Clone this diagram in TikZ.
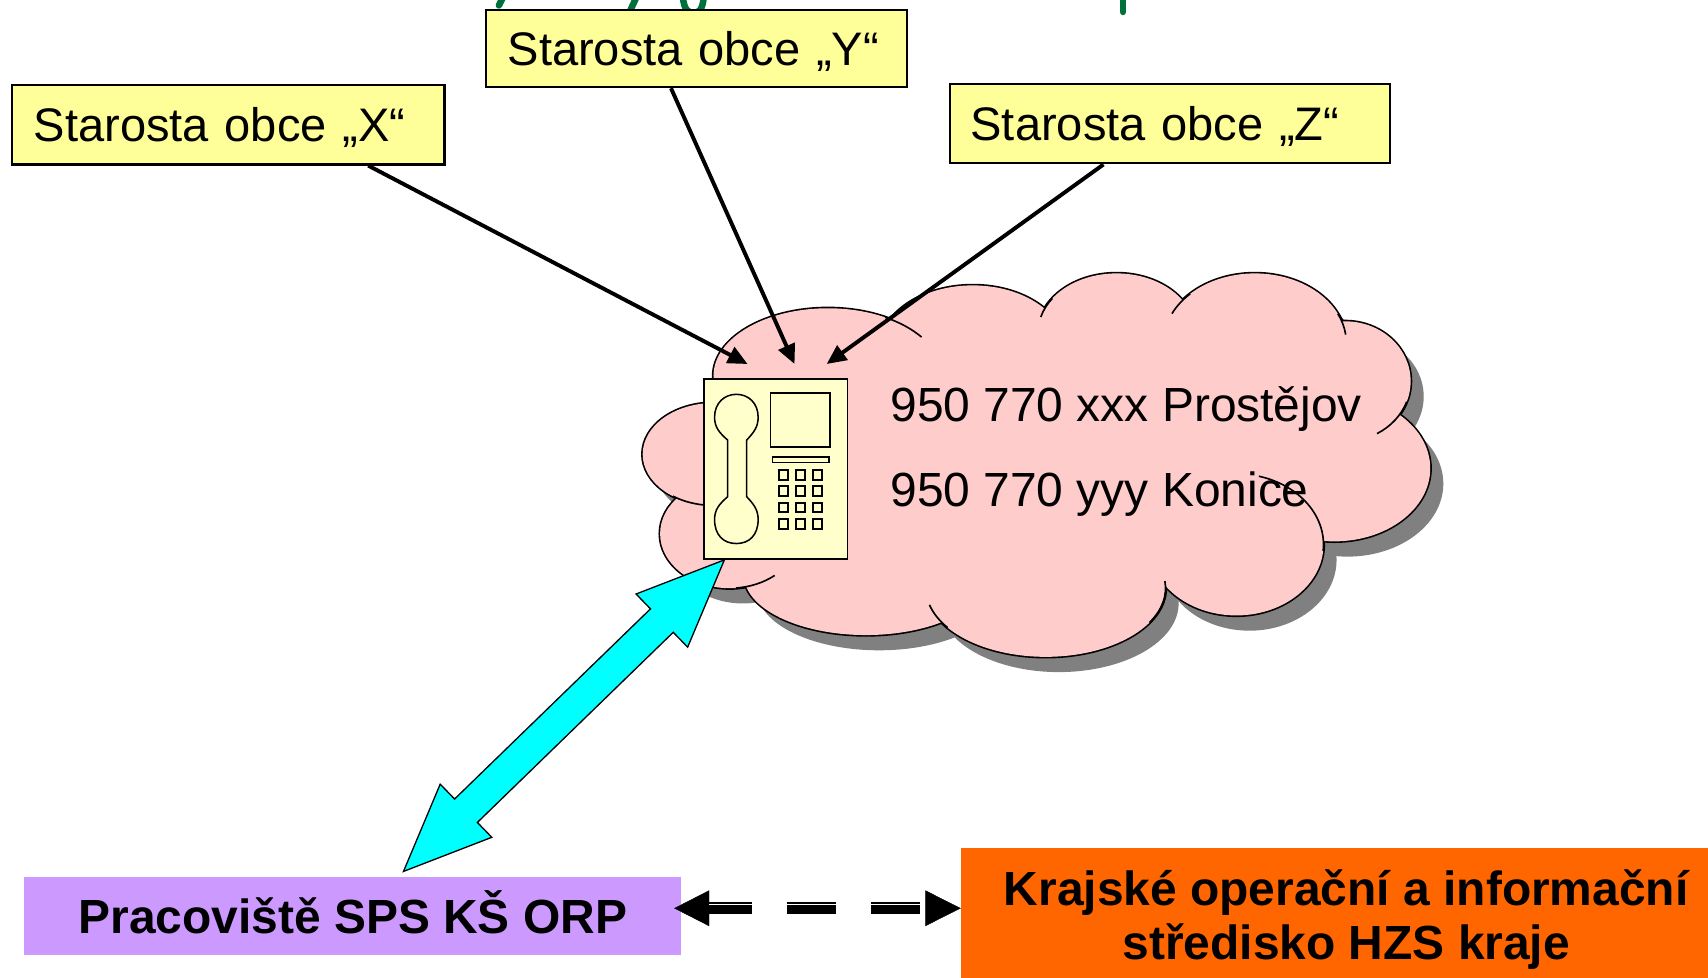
\documentclass[tikz,border=0pt]{standalone}
\usepackage{fontspec}
\setmainfont{Liberation Sans}
\usetikzlibrary{arrows.meta,calc}
\definecolor{boxyellow}{HTML}{FFFF99}
\definecolor{phoneyellow}{HTML}{FFFFCC}
\definecolor{cloudpink}{HTML}{FFCCCC}
\definecolor{shadowgray}{HTML}{808080}
\definecolor{spsviolet}{HTML}{CC99FF}
\definecolor{koisorange}{HTML}{FF6600}
\definecolor{linkcyan}{HTML}{00FFFF}
\definecolor{titlegreen}{HTML}{00703C}
\begin{document}
\begin{tikzpicture}[x=0.5pt,y=-0.5pt,
  font=\fontsize{22pt}{25pt}\selectfont,
  starbox/.style={draw=black, line width=1pt, fill=boxyellow, rectangle,
    anchor=north west, inner xsep=10pt, inner ysep=0pt,
    font=\fontsize{21.6pt}{25pt}\selectfont,
    text height=15.5pt, text depth=0pt, minimum height=36.5pt, align=left},
  callarrow/.style={line width=1.8pt, -{Triangle[length=9pt,width=8pt]}},
  fragment/.style={titlegreen, line width=3pt, line cap=round},
  innerarc/.style={line width=0.75pt},
  phonepart/.style={line width=0.7pt},
  keypart/.style={line width=0.9pt},
  numtext/.style={anchor=base west, inner sep=0pt},
  dashbar/.style={line width=5.4pt, dash pattern=on 22.2pt off 16.4pt, dash phase=2.8pt,
    shorten <=16.1pt, shorten >=16.3pt},
  gapline/.style={white, line width=0.6pt, dash pattern=on 22.2pt off 16.4pt, dash phase=2.8pt,
    shorten <=16.1pt, shorten >=16.3pt},
]
\useasboundingbox (0,0) rectangle (1568,897);

% cut-off title fragments
\draw[fragment] (461.5,-2) -- (458,5);
\draw[fragment] (584,-2) -- (578,11);
\draw[fragment] (627,-2) .. controls (628,9) and (632,12) .. (637,12) .. controls (642,12) and (645,8) .. (646,-2);
\draw[fragment] (1031,-2) -- (1031,11);

% boxes
\node[starbox, text width=178.5pt] (stx) at (10,77) {\mbox{Starosta obce „X“}};
\node[starbox, text width=173.5pt, minimum height=35.5pt] (sty) at (445,8) {\mbox{Starosta obce „Y“}};
\node[starbox, inner xsep=9.5pt, text width=183pt] (stz) at (871,76) {\mbox{Starosta obce „Z“}};

% cloud
\def\cloudbumps{760/345/105/62, 893/320/85/58, 1025/305/72/54, 1152/315/84/64, 1235/350/60/55, 1225/430/88/67, 1135/500/80/65, 960/540/110/63, 795/528/112/55, 670/490/64/50, 655/417/65/47}
\foreach \cx/\cy/\rx/\ry in \cloudbumps
  \fill[shadowgray] (\cx+12,\cy+14) ellipse[x radius=\rx, y radius=\ry];
\foreach \cx/\cy/\rx/\ry in \cloudbumps
  \filldraw[fill=cloudpink, draw=black, line width=1.5pt] (\cx,\cy) ellipse[x radius=\rx, y radius=\ry];
\foreach \cx/\cy/\rx/\ry in \cloudbumps
  \fill[cloudpink] (\cx,\cy) ellipse[x radius=\rx, y radius=\ry];
\fill[cloudpink] (950,425) ellipse[x radius=280, y radius=115];
% inner arcs
\foreach \cx/\cy/\rx/\ry/\ta/\tb in {760/345/105/62/-60/-35, 1025/305/72/54/-145/-165, 1152/315/84/64/-135/-155, 1152/315/84/64/-25/-7, 1235/350/60/55/20/61, 1135/500/80/65/-75/5, 960/540/110/63/30/-6, 960/540/110/63/145/166, 670/490/64/50/85/50, 655/417/65/47/125/85}
  \draw[innerarc] ({\cx+\rx*cos(\ta)},{\cy+\ry*sin(\ta)}) arc[start angle=\ta, end angle=\tb, x radius=\rx, y radius=\ry];

% phone
\node[draw=black, line width=0.7pt, fill=phoneyellow, anchor=north west, inner sep=0pt,
  minimum width=65.8pt, minimum height=82.65pt] (phone) at (645.7,347.3) {};
\draw[phonepart, fill=phoneyellow] (668,404) .. controls (660,397) and (656,392) .. (656,383)
  .. controls (656,370) and (665,362) .. (676,362) .. controls (687,362) and (696,370) .. (696,383)
  .. controls (696,392) and (692,397) .. (685.5,404) -- (685.5,456)
  .. controls (692,463) and (696,468) .. (696,477) .. controls (696,491) and (688,499) .. (676,499)
  .. controls (664,499) and (656,491) .. (656,477) .. controls (656,468) and (660,463) .. (668,456) -- cycle;
\draw[phonepart] (707.5,361) rectangle (762,410.6);
\draw[phonepart] (709,419.5) rectangle (761,424.7);
\foreach \kx in {714.8,730.4,746.6}
  \foreach \ky in {431.5,446.2,461.5,476.5}
    \draw[keypart] (\kx,\ky) rectangle ++(8.2,8.8);

\node[numtext] (numa) at (817,387) {950 770 xxx Prostějov};
\node[numtext] (numb) at (817,465) {950 770 yyy Konice};

% arrows from mayors
\draw[callarrow] ([xshift=64.25pt]stx.south) -- ([xshift=-12.95pt,yshift=6.55pt]phone.north);
\draw[callarrow] ([xshift=-11.75pt]sty.south) -- ([xshift=8.6pt,yshift=6.55pt]phone.north);
\draw[callarrow] ([xshift=-30.5pt]stz.south) -- ([xshift=23.35pt,yshift=6.55pt]phone.north);

% bottom boxes
\node[fill=spsviolet, anchor=north west, inner sep=0pt, minimum width=301.5pt, minimum height=35.5pt,
  text height=15.8pt, text depth=0pt, font=\fontsize{22pt}{25pt}\selectfont\bfseries] (sps) at (22,805) {Pracoviště SPS KŠ ORP};
\node[fill=koisorange, anchor=north west, inner sep=0pt, minimum width=353.5pt, minimum height=63pt] (kois) at (882,778) {};
\node[align=center, inner sep=0pt, font=\fontsize{22pt}{25pt}\selectfont\bfseries] (koistext) at ([yshift=-1.5pt]kois.center) {Krajské operační a informační\\středisko HZS kraje};

% cyan double block arrow
\coordinate (cyana) at ([xshift=23.25pt,yshift=2.5pt]sps.north);
\coordinate (cyanb) at ([xshift=9.65pt]phone.south west);
\draw[line width=0.6pt, fill=linkcyan, line join=miter] (cyana)
  -- ($(cyana)!40pt!(cyanb)!17pt!-90:(cyanb)$)
  -- ($(cyana)!40pt!(cyanb)!7.5pt!-90:(cyanb)$)
  -- ($(cyanb)!40pt!(cyana)!7.5pt!90:(cyana)$)
  -- ($(cyanb)!40pt!(cyana)!17pt!90:(cyana)$)
  -- (cyanb)
  -- ($(cyanb)!40pt!(cyana)!17pt!-90:(cyana)$)
  -- ($(cyanb)!40pt!(cyana)!7.5pt!-90:(cyana)$)
  -- ($(cyana)!40pt!(cyanb)!7.5pt!90:(cyanb)$)
  -- ($(cyana)!40pt!(cyanb)!17pt!90:(cyanb)$)
  -- cycle;

% dashed double link
\coordinate (dl) at ([xshift=-3.45pt,yshift=3.55pt]sps.east);
\coordinate (dr) at (dl -| kois.west);
\draw[draw=white, line width=0.2pt, {Triangle[length=16.1pt,width=16.4pt,color=black]}-{Triangle[length=16.3pt,width=16.4pt,color=black]}] (dl) -- (dr);
\draw[dashbar] (dl) -- (dr);
\draw[gapline] ([yshift=1.6pt]dl) -- ([yshift=1.6pt]dr);
\end{tikzpicture}
\end{document}
